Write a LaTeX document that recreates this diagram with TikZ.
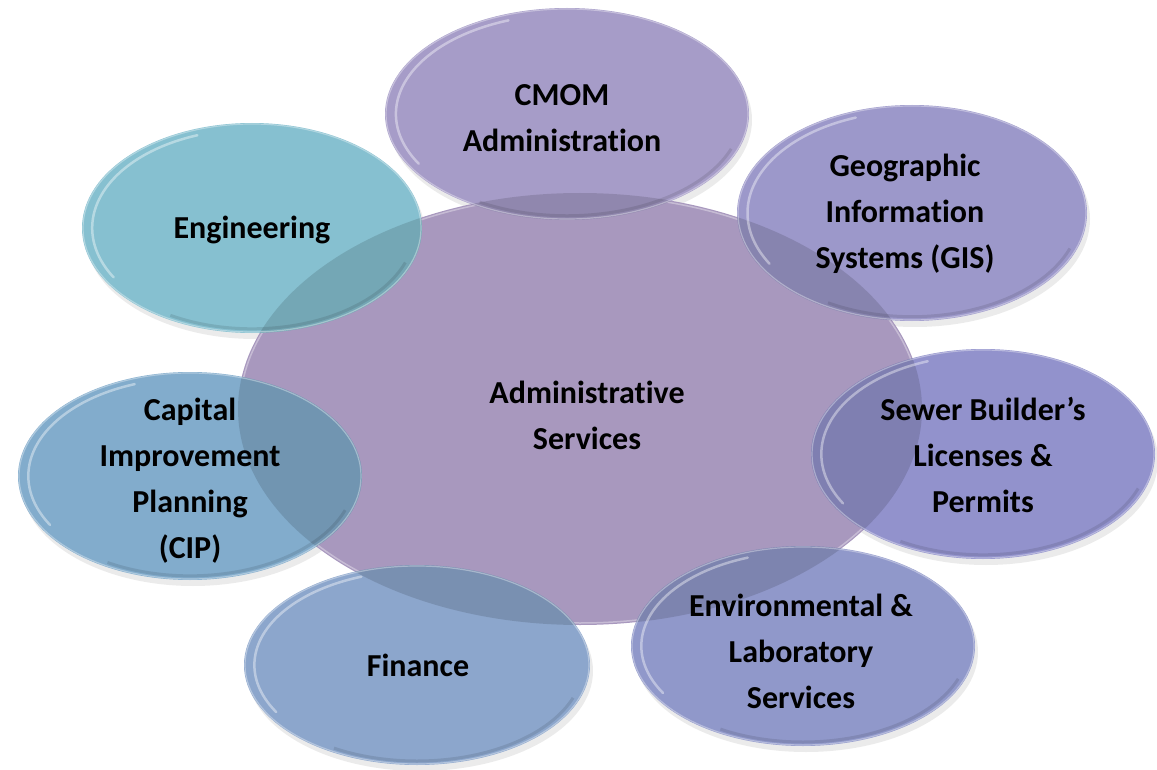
\documentclass[tikz,border=0pt]{standalone}
\usepackage{fontspec}
\setmainfont{Carlito}[Ligatures=NoCommon]
\usetikzlibrary{calc}

\definecolor{adminfill}{RGB}{168,152,190}
\definecolor{cmomfill}{RGB}{166,156,200}
\definecolor{gisfill}{RGB}{156,152,202}
\definecolor{sewerfill}{RGB}{146,146,204}
\definecolor{envfill}{RGB}{144,152,202}
\definecolor{finfill}{RGB}{140,166,204}
\definecolor{cipfill}{RGB}{130,172,204}
\definecolor{engfill}{RGB}{134,192,208}

\begin{document}
\begin{tikzpicture}[x=1pt,y=1pt,yscale=-1,
    bubbletext/.style={align=center, inner sep=0pt, text=black,
      font=\bfseries\fontsize{32}{46}\selectfont},
    dropshade/.style={fill=black, opacity=0.08},
    gloss/.style={draw=white, opacity=0.4, line width=2.5pt, line cap=round},
  ]
\useasboundingbox (0,0) rectangle (1157,770);

%Shadows under the outer ellipses
\foreach \cx/\cy/\rx/\ry in {567/114/182/106, 912/213/175/108, 252/228/170/105,
    190/476/172/104, 983/454/172/105, 417/665/173/100, 803/646/172/100}
  \fill[dropshade] (\cx+3,\cy+6) ellipse [x radius=\rx, y radius=\ry];

%Shape: Ellipse [middle]
\fill[adminfill] (580,409) ellipse [x radius=342, y radius=216];
\draw[white, opacity=0.35, line width=1.5pt] (580,409) ellipse [x radius=340, y radius=214];

%Shape: Ellipses [outer]
\foreach \cx/\cy/\rx/\ry/\col in {567/114/182/106/cmomfill, 912/213/175/108/gisfill,
    252/228/170/105/engfill, 190/476/172/104/cipfill, 983/454/172/105/sewerfill,
    417/665/173/100/finfill, 803/646/172/100/envfill} {
  \fill[\col] (\cx,\cy) ellipse [x radius=\rx, y radius=\ry];
  % overlap with the middle one
  \begin{scope}
    \clip (580,409) ellipse [x radius=342, y radius=216];
    \fill[black, opacity=0.13] (\cx,\cy) ellipse [x radius=\rx, y radius=\ry];
  \end{scope}
  \draw[white, opacity=0.35, line width=1.2pt] (\cx,\cy) ellipse [x radius=\rx-1, y radius=\ry-1];
  \draw[gloss] ($(\cx,\cy)+({0.94*\rx*cos(150)},{0.94*\ry*sin(150)})$)
    arc [start angle=150, end angle=250, x radius=0.94*\rx, y radius=0.94*\ry];
  \draw[black, opacity=0.10, line width=3pt] ($(\cx,\cy)+({0.96*\rx*cos(20)},{0.96*\ry*sin(20)})$)
    arc [start angle=20, end angle=120, x radius=0.96*\rx, y radius=0.96*\ry];
}

% Text Node
\node[bubbletext] (admin) at (587,415) {Administrative\\Services};
% Text Node
\node[bubbletext] (cmom) at (562,118) {CMOM\\Administration};
% Text Node
\node[bubbletext] (gis) at (905,214) {Geographic\\Information\\Systems (GIS)};
% Text Node
\node[bubbletext] (eng) at (252,230) {Engineering};
% Text Node
\node[bubbletext] (cip) at (190,481) {Capital\\Improvement\\Planning\\(CIP)};
% Text Node
\node[bubbletext] (sewer) at (983,455) {Sewer Builder’s\\Licenses \&\\Permits};
% Text Node
\node[bubbletext] (fin) at (418,665) {Finance};
% Text Node
\node[bubbletext] (env) at (801,651) {Environmental \&\\Laboratory\\Services};

\end{tikzpicture}
\end{document}
